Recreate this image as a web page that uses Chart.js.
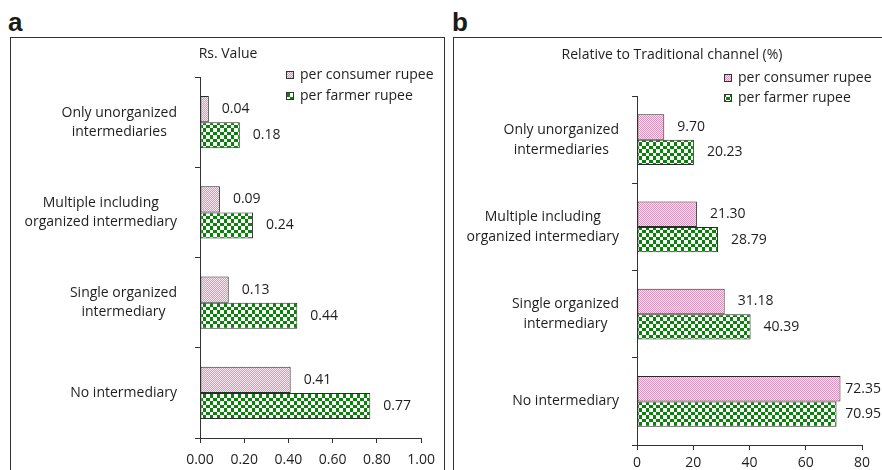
<!DOCTYPE html>
<html>
<head>
<meta charset="utf-8">
<script src="https://cdn.jsdelivr.net/npm/chart.js@4.4.1/dist/chart.umd.min.js"></script>
<style>
  body { margin: 0; background: #fff; width: 882px; height: 470px; overflow: hidden; position: relative; font-family: 'Open Sans', sans-serif; }
  .frame { position: absolute; top: 37px; height: 460px; border: 1px solid #333; box-sizing: border-box; }
  .letter { position: absolute; font: bold 26px 'Liberation Sans', Arial, sans-serif; line-height: 26px; color: #1a1a1a; }
  .box { position: absolute; top: 37px; height: 433px; }
</style>
</head>
<body>
<div class="letter" style="left:8px; top:9px">a</div>
<div class="letter" style="left:452px; top:9px">b</div>
<div class="frame" style="left:10px; width:435px"></div>
<div class="frame" style="left:453px; width:440px"></div>
<div class="box" style="left:10px; width:434px"><canvas id="chartA"></canvas></div>
<div class="box" style="left:453px; width:429px"><canvas id="chartB"></canvas></div>

<script>
// Data
const categories = [
    ['Only unorganized', 'intermediaries'],
    ['Multiple including', 'organized intermediary'],
    ['Single organized', 'intermediary'],
    ['No intermediary']
];
const seriesNames = ['per consumer rupee', 'per farmer rupee'];
const rsConsumer = [0.04, 0.09, 0.13, 0.41];
const rsFarmer = [0.18, 0.24, 0.44, 0.77];
const relConsumer = [9.70, 21.30, 31.18, 72.35];
const relFarmer = [20.23, 28.79, 40.39, 70.95];
const rsTickLabels = ['0.00', '0.20', '0.40', '0.60', '0.80', '1.00'];
const relTickLabels = ['0', '20', '40', '60', '80'];

const ink = '#1e1e1e';
const font = "'Open Sans', sans-serif";

// Fill patterns
function pinkPattern() {
    const c = document.createElement('canvas');
    c.width = 2; c.height = 2;
    const g = c.getContext('2d');
    g.fillStyle = '#f9e6f0';
    g.fillRect(0, 0, 2, 2);
    g.fillStyle = '#dc94b8';
    g.fillRect(0, 0, 1, 1);
    g.fillRect(1, 1, 1, 1);
    return g.createPattern(c, 'repeat');
}

function checkPattern() {
    const c = document.createElement('canvas');
    c.width = 7; c.height = 7;
    const g = c.getContext('2d');
    g.fillStyle = '#0a820a';
    g.fillRect(0, 0, 7, 7);
    g.fillStyle = '#ffffff';
    g.fillRect(0, 0, 4, 4);
    g.fillRect(4, 4, 3, 3);
    return g.createPattern(c, 'repeat');
}

// Title, category labels, value labels and legend
const decor = {
    id: 'decor',
    afterDraw(chart, args, opts) {
        const ctx = chart.ctx;
        const area = chart.chartArea;
        ctx.save();
        ctx.fillStyle = ink;
        ctx.textBaseline = 'middle';

        ctx.font = '14px ' + font;
        ctx.textAlign = 'center';
        ctx.fillText(opts.title, opts.titleX, opts.titleY);

        const yScale = chart.scales.y;
        categories.forEach((lines, i) => {
            const w = Math.max(...lines.map(l => ctx.measureText(l).width));
            const cx = area.left - opts.labelGap - w / 2;
            const cy = yScale.getPixelForValue(i);
            lines.forEach((l, j) => {
                ctx.fillText(l, cx, cy + (j - (lines.length - 1) / 2) * opts.lineH);
            });
        });

        ctx.textAlign = 'left';
        chart.data.datasets.forEach((ds, di) => {
            chart.getDatasetMeta(di).data.forEach((bar, i) => {
                const t = ds.data[i].toFixed(2);
                const w = ctx.measureText(t).width;
                const x = Math.min(bar.x + 13, chart.width - w - 1);
                ctx.fillText(t, x, bar.y);
            });
        });

        chart.data.datasets.forEach((ds, di) => {
            const y = opts.legendY + di * opts.legendStep;
            ctx.fillStyle = ds.backgroundColor;
            ctx.fillRect(opts.legendX, y - 4, 8, 8);
            ctx.strokeStyle = '#333';
            ctx.lineWidth = 1;
            ctx.strokeRect(opts.legendX + 0.5, y - 3.5, 7, 7);
            ctx.fillStyle = ink;
            ctx.fillText(ds.label, opts.legendX + 14, y);
        });
        ctx.restore();
    }
};

function makeChart(id, consumer, farmer, tickLabels, cfg) {
    const ctx = document.getElementById(id).getContext('2d');
    const min = parseFloat(tickLabels[0]);
    const max = parseFloat(tickLabels[tickLabels.length - 1]);
    const step = parseFloat(tickLabels[1]) - min;
    return new Chart(ctx, {
        type: 'bar',
        data: {
            labels: categories.map(c => c.join(' ')),
            datasets: [
                { label: seriesNames[0], data: consumer, backgroundColor: pinkPattern(), borderColor: '#2a2a2a', borderWidth: 1, borderSkipped: false },
                { label: seriesNames[1], data: farmer, backgroundColor: checkPattern(), borderColor: '#2a2a2a', borderWidth: 1, borderSkipped: false }
            ]
        },
        plugins: [decor],
        options: {
            indexAxis: 'y',
            responsive: true,
            maintainAspectRatio: false,
            animation: false,
            layout: { padding: { top: cfg.top, right: cfg.right, left: 0, bottom: 0 } },
            datasets: { bar: { categoryPercentage: 0.58, barPercentage: 1 } },
            plugins: {
                legend: { display: false },
                tooltip: { enabled: false },
                decor: cfg.decor
            },
            scales: {
                y: {
                    grid: { drawOnChartArea: false, tickLength: 5, color: '#333' },
                    border: { color: '#333' },
                    ticks: { display: false },
                    afterFit: s => { s.width = cfg.yWidth; }
                },
                x: {
                    type: 'linear',
                    min: min,
                    max: max,
                    grid: { drawOnChartArea: false, tickLength: 5, color: '#333' },
                    border: { color: '#333' },
                    ticks: {
                        stepSize: step,
                        padding: cfg.tickPad,
                        color: ink,
                        font: { family: font, size: 14 },
                        callback: (v, i) => tickLabels[i]
                    },
                    afterFit: s => { s.height = cfg.xHeight; }
                }
            }
        }
    });
}

makeChart('chartA', rsConsumer, rsFarmer, rsTickLabels, {
    top: 40, right: 17, yWidth: 190, xHeight: 32, tickPad: 9,
    decor: { title: 'Rs. Value', titleX: 218, titleY: 17, labelGap: 23, lineH: 19,
             legendX: 276, legendY: 38, legendStep: 21 }
});

makeChart('chartB', relConsumer, relFarmer, relTickLabels, {
    top: 59, right: 20, yWidth: 184, xHeight: 25, tickPad: 5,
    decor: { title: 'Relative to Traditional channel (%)', titleX: 219, titleY: 18, labelGap: 18, lineH: 20,
             legendX: 271, legendY: 41, legendStep: 20 }
});
</script>
</body>
</html>
